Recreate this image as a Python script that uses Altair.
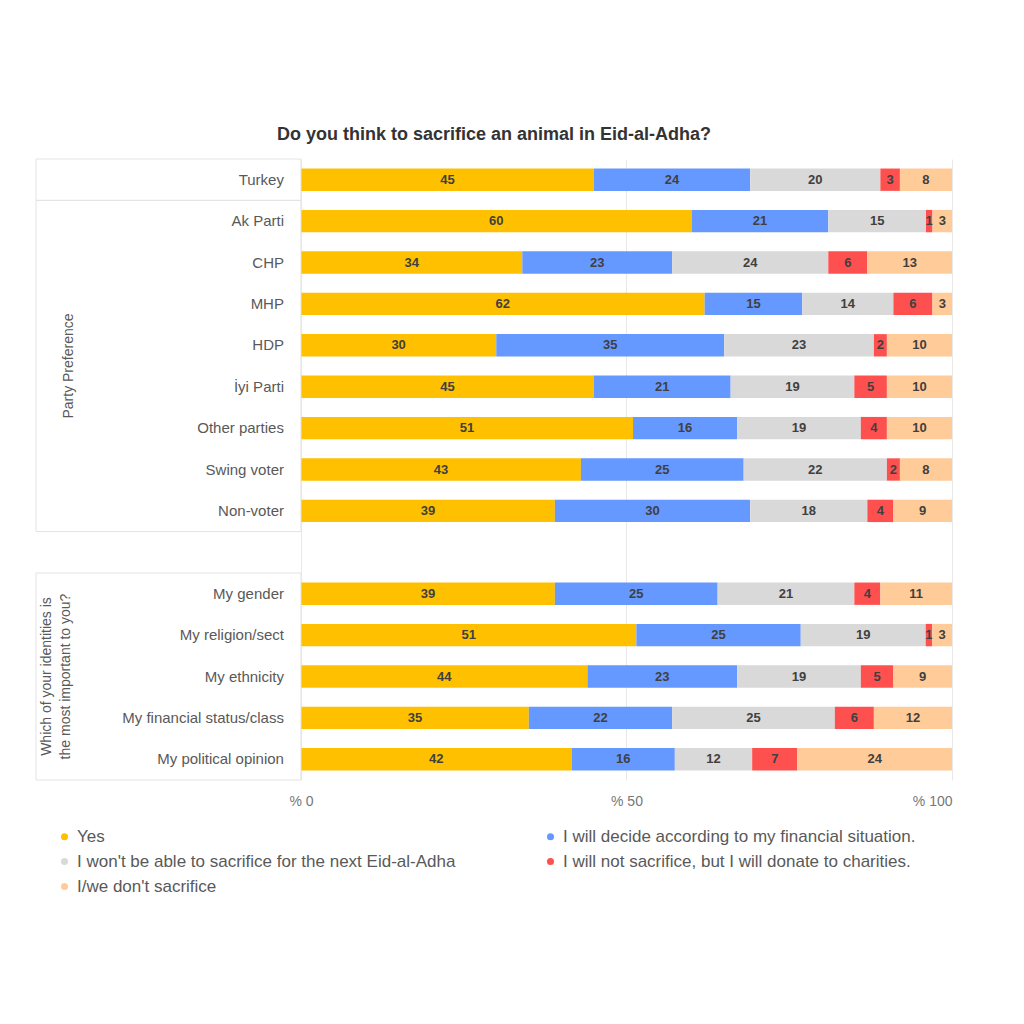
import altair as alt
import pandas as pd

# ---------------- data ----------------
categories = ["Turkey", "Ak Parti", "CHP", "MHP", "HDP", "İyi Parti", "Other parties",
              "Swing voter", "Non-voter", "My gender", "My religion/sect", "My ethnicity",
              "My financial status/class", "My political opinion"]
groups = ["Turkey"] + ["Party"] * 8 + ["Identity"] * 5
group_line1 = {"Turkey": "", "Party": "Party Preference", "Identity": "Which of your identities is"}
group_line2 = {"Turkey": "", "Party": "", "Identity": "the most important to you?"}
spacer_before = ["Identity"]  # an empty row is left before this group

series = ["Yes",
          "I will decide according to my financial situation.",
          "I won't be able to sacrifice for the next Eid-al-Adha",
          "I will not sacrifice, but I will donate to charities.",
          "I/we don't sacrifice"]
colors = ["#FFC000", "#6699FF", "#D9D9D9", "#FF5050", "#FFCC99"]

yes = [45, 60, 34, 62, 30, 45, 51, 43, 39, 39, 51, 44, 35, 42]
decide = [24, 21, 23, 15, 35, 21, 16, 25, 30, 25, 25, 23, 22, 16]
wont = [20, 15, 24, 14, 23, 19, 19, 22, 18, 21, 19, 19, 25, 12]
donate = [3, 1, 6, 6, 2, 5, 4, 2, 4, 4, 1, 5, 6, 7]
dont = [8, 3, 13, 3, 10, 10, 10, 8, 9, 11, 3, 9, 12, 24]
values = [yes, decide, wont, donate, dont]

# row index (with a spacer row before the identity group)
rows = []
r = -1
prev = None
for g in groups:
    r += 1
    if g != prev and g in spacer_before:
        r += 1
    rows.append(r)
    prev = g
n_rows = rows[-1] + 1

records = []
for i, c in enumerate(categories):
    for s_i, s in enumerate(series):
        records.append({"category": c, "row": rows[i], "series": s,
                        "order": s_i, "value": values[s_i][i]})
df = pd.DataFrame(records)

lab = pd.DataFrame({"category": categories, "row": rows, "zero": [0] * len(rows)})

XMIN = -40.7
box_recs = []
for g in dict.fromkeys(groups):
    rr = [rows[i] for i in range(len(groups)) if groups[i] == g]
    box_recs.append({"grp": g, "line1": group_line1[g], "line2": group_line2[g],
                     "lo": min(rr) - 0.5, "hi": max(rr) + 0.5, "mid": (min(rr) + max(rr)) / 2,
                     "left": XMIN, "right": 0})
boxes = pd.DataFrame(box_recs)

# ---------------- scales ----------------
xs = alt.Scale(domain=[XMIN, 100], nice=False, zero=False)
ys = alt.Scale(domain=[-0.5, n_rows - 0.5], reverse=True, nice=False, zero=False)
HALF = 0.27

bars_base = alt.Chart(df).transform_joinaggregate(
    total="sum(value)", groupby=["row"]
).transform_calculate(
    pct="datum.value / datum.total * 100",
    y0=f"datum.row - {HALF}",
    y1=f"datum.row + {HALF}",
).transform_window(
    x1="sum(pct)", groupby=["row"], sort=[alt.SortField("order", order="ascending")],
    frame=[None, 0]
).transform_calculate(
    x0="datum.x1 - datum.pct",
    xm="datum.x1 - datum.pct / 2",
)

bars = bars_base.mark_rect().encode(
    x=alt.X("x0:Q", scale=xs,
            axis=alt.Axis(values=[0, 50, 100], labelExpr="'% ' + datum.value",
                          grid=True, gridColor="#E8E8E8", domain=False, ticks=False,
                          labelFontSize=14, labelColor="#777777", labelPadding=14,
                          title=None)),
    x2="x1:Q",
    y=alt.Y("y0:Q", scale=ys, axis=None),
    y2="y1:Q",
    color=alt.Color("series:N", scale=alt.Scale(domain=series, range=colors),
                    legend=alt.Legend(title=None, orient="bottom", columns=2, labelLimit=600,
                                      labelFontSize=17, labelColor="#595959",
                                      symbolType="circle", symbolSize=50,
                                      columnPadding=86, rowPadding=7,
                                      padding=20, offset=0)),
)

bar_text = bars_base.mark_text(fontSize=13, fontWeight="bold", color="#404040").encode(
    x=alt.X("xm:Q", scale=xs),
    y=alt.Y("row:Q", scale=ys, axis=None),
    text=alt.Text("value:Q"),
)

box_rect = alt.Chart(boxes).mark_rect(fillOpacity=0, stroke="#E3E3E3", strokeWidth=1).encode(
    x=alt.X("left:Q", scale=xs),
    x2="right:Q",
    y=alt.Y("lo:Q", scale=ys, axis=None),
    y2="hi:Q",
)

row_labels = alt.Chart(lab).mark_text(align="right", dx=-17, fontSize=15, color="#595959").encode(
    x=alt.X("zero:Q", scale=xs),
    y=alt.Y("row:Q", scale=ys, axis=None),
    text="category:N",
)

label_style = dict(angle=270, fontSize=14, color="#595959", baseline="middle")
party_label = alt.Chart(boxes).transform_filter("datum.grp == 'Party'").mark_text(**label_style).encode(
    x=alt.value(33), y=alt.Y("mid:Q", scale=ys, axis=None), text="line1:N")
ident_l1 = alt.Chart(boxes).transform_filter("datum.grp == 'Identity'").mark_text(**label_style).encode(
    x=alt.value(11), y=alt.Y("mid:Q", scale=ys, axis=None), text="line1:N")
ident_l2 = alt.Chart(boxes).transform_filter("datum.grp == 'Identity'").mark_text(**label_style).encode(
    x=alt.value(30), y=alt.Y("mid:Q", scale=ys, axis=None), text="line2:N")

chart = alt.layer(bars, bar_text, box_rect, row_labels, party_label, ident_l1, ident_l2).properties(
    width=916, height=621,
    padding={"left": 27, "top": 117, "right": 5, "bottom": 5},
    title=alt.TitleParams("Do you think to sacrifice an animal in Eid-al-Adha?",
                          fontSize=18, fontWeight="bold", color="#333333",
                          anchor="middle", offset=15),
).configure_view(stroke=None)

chart.save("out.html", embed_options={"renderer": "svg", "actions": False})
